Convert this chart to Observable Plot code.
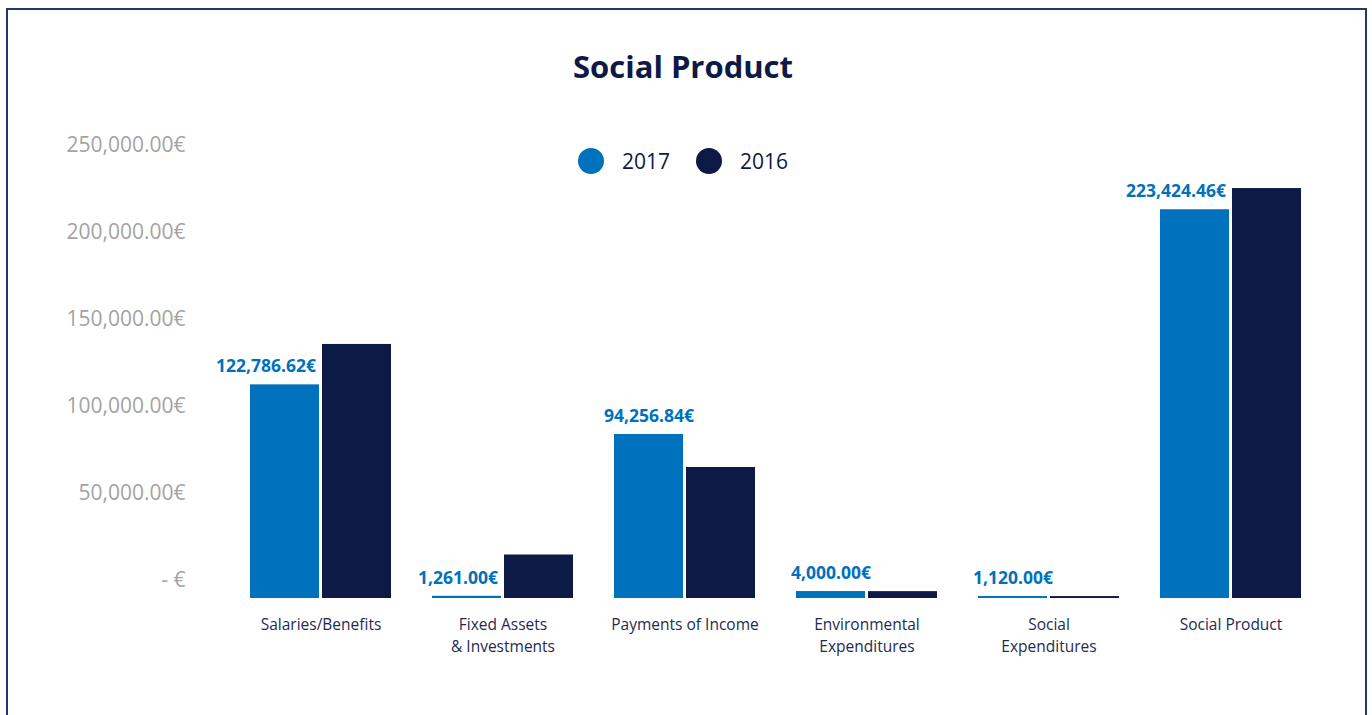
<!DOCTYPE html>
<html>
<head>
<meta charset="utf-8">
<script src="https://cdn.jsdelivr.net/npm/d3@7"></script>
<script src="https://cdn.jsdelivr.net/npm/@observablehq/plot@0.6"></script>
<style>
  body { margin: 0; background: #fff; font-family: "Open Sans", sans-serif; }
  #page { position: relative; width: 1372px; height: 715px; overflow: hidden; }
  #frame { position: absolute; left: 6px; top: 8px; width: 1361px; height: 800px;
           border: 2px solid #1f3772; box-sizing: border-box; }
  #title { position: absolute; left: 0; top: 50px; width: 1366px; text-align: center;
           font: 700 31px/32px "Open Sans", sans-serif; color: #0c1a45; }
  #legend { position: absolute; top: 148px; left: 0; height: 26px; }
  .item { position: absolute; top: 0; display: flex; align-items: center; height: 26px; }
  .dot { width: 26px; height: 26px; border-radius: 50%; }
  .lab { margin-left: 18px; font: 400 21px "Open Sans", sans-serif; color: #0c1a45; white-space: nowrap; }
  #chart { position: absolute; left: 0; top: 0; }
</style>
</head>
<body>
<div id="page">
  <div id="frame"></div>
  <div id="chart"></div>
  <div id="title">Social Product</div>
  <div id="legend"></div>
</div>
<script>
// Categories along the bottom (line breaks as printed)
const categories = [
  "Salaries/Benefits",
  "Fixed Assets\n& Investments",
  "Payments of Income",
  "Environmental\nExpenditures",
  "Social\nExpenditures",
  "Social Product"
];
const years = ["2017", "2016"];
const colors = ["#0071bc", "#0c1a45"];

// Values in euros
const values2017 = [122786.62, 1261.00, 94256.84, 4000.00, 1120.00, 223424.46];
const values2016 = [146000, 25000, 75300, 3950, 1100, 235600];

// Y axis ticks
const yTicks = [0, 50000, 100000, 150000, 200000, 250000];

const rows = categories.flatMap((c, i) => [
  {category: c, year: "2017", value: values2017[i], other: values2016[i]},
  {category: c, year: "2016", value: values2016[i], other: values2017[i]}
]);
const labelled = rows.filter(d => d.year === "2017");

const euro = d3.format(",.2f");
const money = v => euro(v) + "€";

const valueStyle = {
  fx: "category", x: "year", y: "value", text: d => money(d.value),
  fill: "#0071bc", fontWeight: 700, fontSize: 17.5, dy: -18
};

const chart = Plot.plot({
  width: 1372,
  height: 715,
  marginLeft: 228,
  marginRight: 49,
  marginTop: 163,
  marginBottom: 117,
  style: {fontFamily: '"Open Sans", sans-serif', background: "transparent"},
  fx: {domain: categories, paddingInner: 0.216, paddingOuter: 0.108, label: null},
  x: {domain: years, paddingInner: 0.041, paddingOuter: 0, axis: null},
  y: {domain: [0, 250000], label: null},
  color: {domain: years, range: colors},
  marks: [
    Plot.barY(rows, {fx: "category", x: "year", y: "value", fill: "year"}),
    // Labels sit right-aligned when the neighbouring 2016 bar is taller
    Plot.text(labelled.filter(d => d.other > d.value), {...valueStyle, textAnchor: "end", dx: 31}),
    Plot.text(labelled.filter(d => d.other <= d.value), valueStyle),
    Plot.axisY({
      ticks: yTicks, tickSize: 0, tickPadding: 64, dy: -18,
      fontSize: 21, color: "#a3a3a3", label: null,
      tickFormat: d => d === 0 ? "- €" : money(d)
    }),
    Plot.axisFx({
      anchor: "bottom", tickSize: 0, tickPadding: 17, fontSize: 15.5,
      lineHeight: 1.36, color: "#1e2b50", label: null
    })
  ]
});
document.getElementById("chart").append(chart);

// Legend built from the same year/colour lists
const legendLefts = [578, 696];
const legend = d3.select("#legend");
years.forEach((y, i) => {
  const item = legend.append("div").attr("class", "item").style("left", legendLefts[i] + "px");
  item.append("div").attr("class", "dot").style("background", colors[i]);
  item.append("div").attr("class", "lab").text(y);
});
</script>
</body>
</html>
